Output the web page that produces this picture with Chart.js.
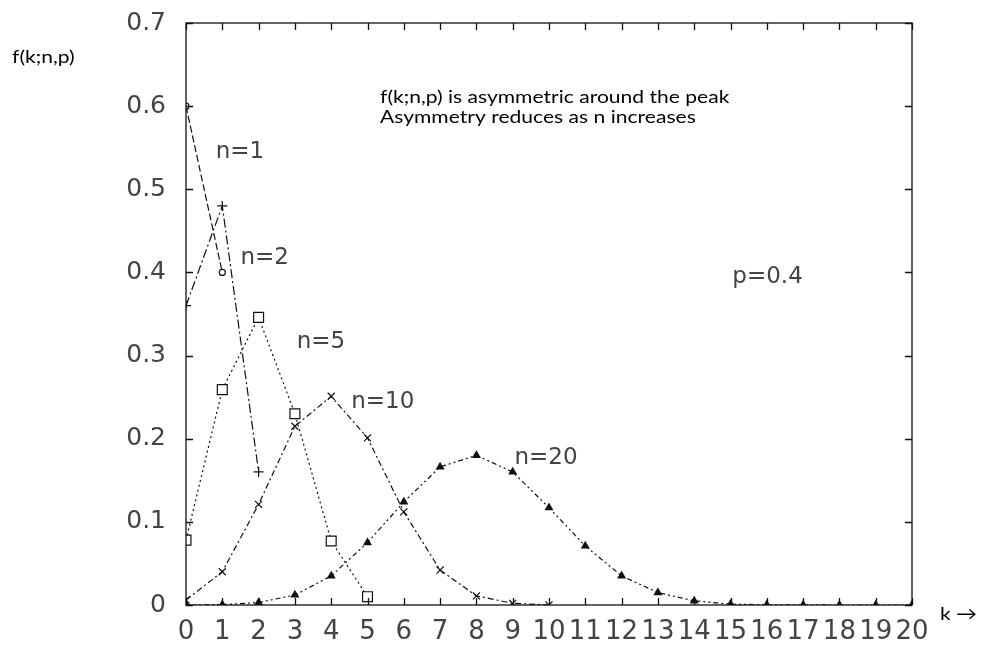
<!DOCTYPE html>
<html>
<head>
<meta charset="utf-8">
<script src="https://cdn.jsdelivr.net/npm/chart.js@4"></script>
<style>
  body { margin: 0; background: #fff; }
  canvas { display: block; }
</style>
</head>
<body>
<canvas id="myChart" width="981" height="650"></canvas>
<script>
// k-verdier langs x-aksen
const kValues = [0, 1, 2, 3, 4, 5, 6, 7, 8, 9, 10, 11, 12, 13, 14, 15, 16, 17, 18, 19, 20];
const yTicks = [0, 0.1, 0.2, 0.3, 0.4, 0.5, 0.6, 0.7];

// f(k;n,p) lest av bildet, p = 0.4
const n1 = [0.6, 0.4];
const n2 = [0.36, 0.48, 0.16];
const n5 = [0.078, 0.259, 0.346, 0.230, 0.077, 0.010];
const n10 = [0.006, 0.040, 0.121, 0.215, 0.251, 0.201, 0.112, 0.042, 0.011, 0.002, 0.0001];
const n20 = [0.0001, 0.0005, 0.003, 0.012, 0.035, 0.075, 0.124, 0.166, 0.180, 0.160, 0.117,
             0.071, 0.035, 0.015, 0.005, 0.001, 0.0003, 0.0001, 0, 0, 0];

// Tekster i plottet
const curveLabels = [
  { text: "n=1", k: 0.82, v: 0.538 },
  { text: "n=2", k: 1.5, v: 0.41 },
  { text: "n=5", k: 3.05, v: 0.309 },
  { text: "n=10", k: 4.55, v: 0.237 },
  { text: "n=20", k: 9.05, v: 0.169 },
  { text: "p=0.4", k: 15.05, v: 0.387 }
];
const notes = ["f(k;n,p) is asymmetric around the peak", "Asymmetry reduces as n increases"];

function toPoints(values) {
  return values.map((v, i) => ({ x: kValues[i], y: v }));
}

// Litt bred tekst, som i originalen
function wideText(ctx, text, x, y) {
  ctx.save();
  ctx.translate(x, y);
  ctx.scale(1.17, 1);
  ctx.fillText(text, 0, 0);
  ctx.restore();
}

// Ramme med innovervendte tikker, og tekster
const framePlugin = {
  id: "frame",
  afterDraw(chart) {
    const ctx = chart.ctx;
    const a = chart.chartArea;
    const xs = chart.scales.x;
    const ys = chart.scales.y;
    ctx.save();
    ctx.strokeStyle = "#111";
    ctx.lineWidth = 1.3;
    ctx.strokeRect(a.left, a.top, a.right - a.left, a.bottom - a.top);
    ctx.beginPath();
    kValues.forEach(k => {
      const px = Math.round(xs.getPixelForValue(k)) + 0.5;
      ctx.moveTo(px, a.bottom); ctx.lineTo(px, a.bottom - 7);
      ctx.moveTo(px, a.top); ctx.lineTo(px, a.top + 7);
    });
    yTicks.forEach(t => {
      const py = Math.round(ys.getPixelForValue(t)) + 0.5;
      ctx.moveTo(a.left, py); ctx.lineTo(a.left + 7, py);
      ctx.moveTo(a.right, py); ctx.lineTo(a.right - 7, py);
    });
    ctx.stroke();

    ctx.fillStyle = "#444";
    ctx.font = "23px 'DejaVu Sans'";
    ctx.textAlign = "left";
    ctx.textBaseline = "alphabetic";
    curveLabels.forEach(l => {
      ctx.fillText(l.text, xs.getPixelForValue(l.k), ys.getPixelForValue(l.v));
    });

    ctx.fillStyle = "#000";
    ctx.font = "18px Lato";
    wideText(ctx, notes[0], 380, 103);
    wideText(ctx, notes[1], 380, 123);
    wideText(ctx, "f(k;n,p)", 12, 63);
    wideText(ctx, "k \u2192", 940, 620);
    ctx.restore();
  }
};

const lineStyle = {
  borderColor: "#111",
  backgroundColor: "#111",
  borderWidth: 1.2,
  fill: false,
  tension: 0
};

const ctx = document.getElementById("myChart").getContext("2d");

const chart = new Chart(ctx, {
  type: "line",
  data: {
    datasets: [
      { ...lineStyle, label: "n=1", data: toPoints(n1), borderDash: [7, 3],
        pointStyle: "circle", pointRadius: 3, pointBackgroundColor: "#fff" },
      { ...lineStyle, label: "n=2", data: toPoints(n2), borderDash: [9, 3, 2, 3],
        pointStyle: "cross", pointRadius: 5 },
      { ...lineStyle, label: "n=5", data: toPoints(n5), borderDash: [2, 3],
        pointStyle: "rect", pointRadius: 7, pointBackgroundColor: "#fff" },
      { ...lineStyle, label: "n=10", data: toPoints(n10), borderDash: [6, 3, 2, 3],
        pointStyle: "crossRot", pointRadius: 5 },
      { ...lineStyle, label: "n=20", data: toPoints(n20), borderDash: [5, 3, 2, 3, 2, 3],
        pointStyle: "triangle", pointRadius: 4 }
    ]
  },
  options: {
    responsive: false,
    animation: false,
    devicePixelRatio: 1,
    layout: { padding: { left: 0, right: 69, top: 23, bottom: 0 } },
    plugins: { legend: { display: false }, tooltip: { enabled: false } },
    scales: {
      x: {
        type: "linear",
        min: 0,
        max: 20,
        grid: { display: false, drawTicks: false },
        border: { display: false },
        afterFit: s => { s.height = 45; s.paddingLeft = 0; s.paddingRight = 0; },
        afterBuildTicks: s => { s.ticks = kValues.map(v => ({ value: v })); },
        ticks: {
          autoSkip: false,
          maxRotation: 0,
          padding: 12,
          color: "#444",
          font: { family: "'DejaVu Sans'", size: 26 }
        }
      },
      y: {
        min: 0,
        max: 0.7,
        grid: { display: false, drawTicks: false },
        border: { display: false },
        afterFit: s => { s.width = 186; s.paddingTop = 0; s.paddingBottom = 0; },
        afterBuildTicks: s => { s.ticks = yTicks.map(v => ({ value: v })); },
        ticks: {
          padding: 20,
          color: "#444",
          font: { family: "'DejaVu Sans'", size: 25 },
          callback: v => (v === 0 ? "0" : v.toFixed(1))
        }
      }
    }
  },
  plugins: [framePlugin]
});
</script>
</body>
</html>
